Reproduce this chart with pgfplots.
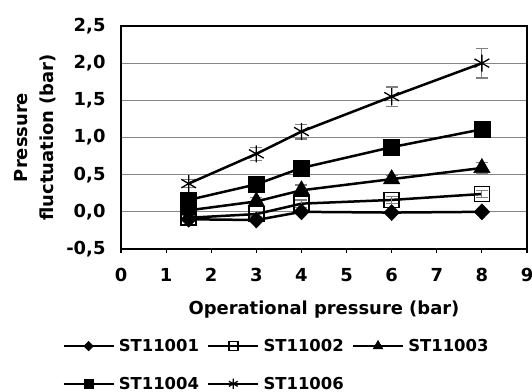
\documentclass[border=0pt]{standalone}
\usepackage{pgfplots}
\pgfplotsset{compat=1.18}
\usepackage{fontspec}
\setmainfont{DejaVu Sans}[BoldFont={DejaVu Sans Bold}]
\begin{document}
\begin{tikzpicture}
\useasboundingbox (-121bp,-143bp) rectangle (411bp,249bp);
\begin{axis}[
  scale only axis, width=406bp, height=223bp,
  xmin=0, xmax=9, ymin=-0.5, ymax=2.5,
  xtick={0,1,...,9}, ytick={-0.5,0,0.5,1,1.5,2,2.5},
  font=\fontsize{18}{20}\selectfont\bfseries,
  /pgf/number format/assume math mode=true,
  yticklabel style={xshift=-8bp, /pgf/number format/.cd, use comma, fixed, fixed zerofill, precision=1},
  xticklabel style={yshift=-12bp, /pgf/number format/.cd, use comma, fixed, precision=0},
  ymajorgrids, grid style={color=gray!95, line width=1.2bp},
  axis line style={line width=1.6bp},
  xtick pos=bottom, ytick pos=left,
  xtick style={black, line width=1.2bp}, ytick style={draw=none},
  tick align=outside, major tick length=4bp,
  xlabel={Operational pressure (bar)},
  xlabel style={yshift=-12bp},
  ylabel={\begin{tabular}{c}Pressure\\[6bp]fluctuation (bar)\end{tabular}},
  ylabel style={yshift=0bp},
  legend columns=3,
  legend style={draw=none, fill=none, at={(-0.145,-0.395)}, anchor=north west,
    font=\fontsize{16.5}{18}\selectfont\bfseries,
    /tikz/every odd column/.append style={column sep=2bp},
    /tikz/every even column/.append style={column sep=6bp},
    row sep=20bp, inner sep=0pt},
  legend cell align=left,
  legend image code/.code={\draw[mark repeat=2,mark phase=2,#1, every mark/.append style={scale=0.6}] plot coordinates {(0bp,0bp) (25bp,0bp) (50bp,0bp)};},
  error bars/error bar style={color=gray, line width=1.2bp},
  error bars/error mark options={rotate=90, color=gray, mark size=6bp, line width=1.2bp},
]
\addplot[black, line width=2.5bp, mark=diamond*, mark size=8bp, mark options={black, fill=black, line width=0.5bp, xscale=1.3}, error bars/.cd, y dir=both, y explicit]
  coordinates {(1.5,-0.10) (3,-0.11) (4,0.0) (6,-0.01) (8,0.0)};
\addlegendentry{ST11001}
\addplot[black, line width=2.5bp, mark=square, mark size=7.5bp, mark options={black, fill=none, line width=1.6bp}, error bars/.cd, y dir=both, y explicit]
  coordinates {(1.5,-0.08) +- (0,0.03) (3,-0.03) +- (0,0.03) (4,0.11) +- (0,0.05) (6,0.16) +- (0,0.05) (8,0.24) +- (0,0.05)};
\addlegendentry{ST11002}
\addplot[black, line width=2.5bp, mark=triangle*, mark size=9.5bp, mark options={black, fill=black, line width=0.5bp}, error bars/.cd, y dir=both, y explicit]
  coordinates {(1.5,0.02) +- (0,0.03) (3,0.14) +- (0,0.05) (4,0.29) +- (0,0.07) (6,0.44) +- (0,0.05) (8,0.59) +- (0,0.07)};
\addlegendentry{ST11003}
\addplot[black, line width=2.5bp, mark=square*, mark size=8bp, mark options={black, fill=black, line width=0.5bp}, error bars/.cd, y dir=both, y explicit]
  coordinates {(1.5,0.16) +- (0,0.03) (3,0.37) +- (0,0.04) (4,0.59) +- (0,0.04) (6,0.87) +- (0,0.05) (8,1.11) +- (0,0.05)};
\addlegendentry{ST11004}
\addplot[black, line width=2.5bp, mark=asterisk, mark size=8.5bp, mark options={black, line width=1.3bp}, error bars/.cd, y dir=both, y explicit]
  coordinates {(1.5,0.38) +- (0,0.05) (3,0.78) +- (0,0.09) (4,1.08) +- (0,0.10) (6,1.55) +- (0,0.13) (8,2.00) +- (0,0.20)};
\addlegendentry{ST11006}
\end{axis}
\end{tikzpicture}
\end{document}
